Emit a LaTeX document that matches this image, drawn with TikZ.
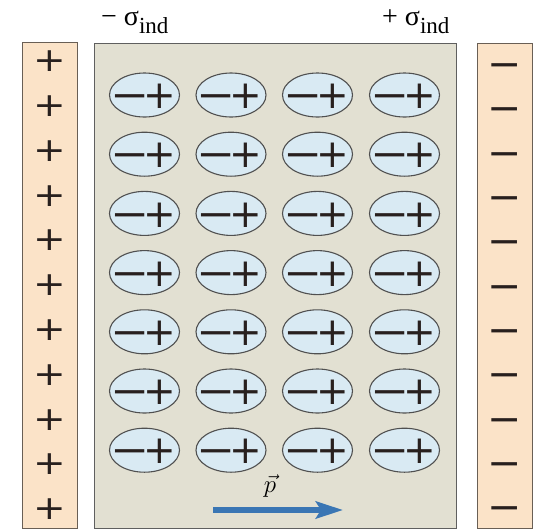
\documentclass[tikz,border=0pt]{standalone}
\usepackage{fontspec}
\usepackage{graphicx}
\setmainfont{Liberation Serif}
\newfontfamily\signfont{DejaVu Sans}
\usetikzlibrary{arrows.meta,shapes.geometric,calc}
\definecolor{platefill}{RGB}{251,227,200}
\definecolor{platedraw}{RGB}{105,95,85}
\definecolor{dielfill}{RGB}{226,224,210}
\definecolor{dieldraw}{RGB}{95,95,95}
\definecolor{dipfill}{RGB}{217,234,243}
\definecolor{dipdraw}{RGB}{80,80,80}
\definecolor{signcol}{RGB}{40,32,30}
\definecolor{arrowcol}{RGB}{58,118,180}
\tikzset{
  plate/.style={draw=platedraw, fill=platefill, line width=1.2pt, inner sep=0pt, anchor=north west},
  diel/.style={draw=dieldraw, fill=dielfill, line width=1.2pt, inner sep=0pt, anchor=north west},
  dip/.style={ellipse, draw=dipdraw, fill=dipfill, line width=1.1pt, minimum width=70pt, minimum height=44pt, inner sep=0pt},
  sign/.style={font=\signfont\fontsize{39}{39}\selectfont, text=signcol, inner sep=0pt, text height=27.3pt, text depth=0pt},
  lbl/.style={font=\fontsize{28}{28}\selectfont, inner sep=0pt, anchor=base west},
  parrow/.style={draw=arrowcol, line width=5.5pt, -{Stealth[length=27pt,width=17pt,inset=5pt]}}
}
\begin{document}
\begin{tikzpicture}[x=1pt,y=-1pt]
\useasboundingbox (0,0) rectangle (533,531);
% plates and dielectric
\node[plate, minimum width=55pt, minimum height=486pt] (lp) at (22,42) {};
\node[diel, minimum width=362pt, minimum height=485pt] (dl) at (94,43) {};
\node[plate, minimum width=55pt, minimum height=485pt] (rp) at (477,43) {};
% plate charges
\foreach \i in {0,...,10} {
  \node[sign] (lps\i) at (49.5,{58+44.8*\i}) {\scalebox{1}[0.85]{+}};
  \node[sign] (rps\i) at (505,{64+44.3*\i}) {\scalebox{1.05}[1]{−}};
}
% dipoles
\foreach \c/\x in {1/144.5,2/231,3/317.5,4/404.5} {
  \foreach \r in {1,...,7} {
    \node[dip] (e\c\r) at (\x,{95+59.2*(\r-1)}) {};
    \node[sign] (em\c\r) at ($(e\c\r.center)+(-14.5,0)$) {\scalebox{1.2}[1]{−}};
    \node[sign] (ep\c\r) at ($(e\c\r.center)+(15,0)$) {+};
  }
}
% labels
\node[lbl] (sl) at (101,25) {− σ\raisebox{-8pt}{\fontsize{23}{23}\selectfont ind}};
\node[lbl] (sr) at (382,25) {+ σ\raisebox{-8pt}{\fontsize{23}{23}\selectfont ind}};
% polarization arrow
\coordinate (pa) at (213,510);
\coordinate (pb) at (343,510);
\draw[parrow] (pa) -- (pb);
\node[font=\fontsize{30}{30}\selectfont, inner sep=0pt] (pl) at (270,486) {$\vec{p}$};
\end{tikzpicture}
\end{document}
